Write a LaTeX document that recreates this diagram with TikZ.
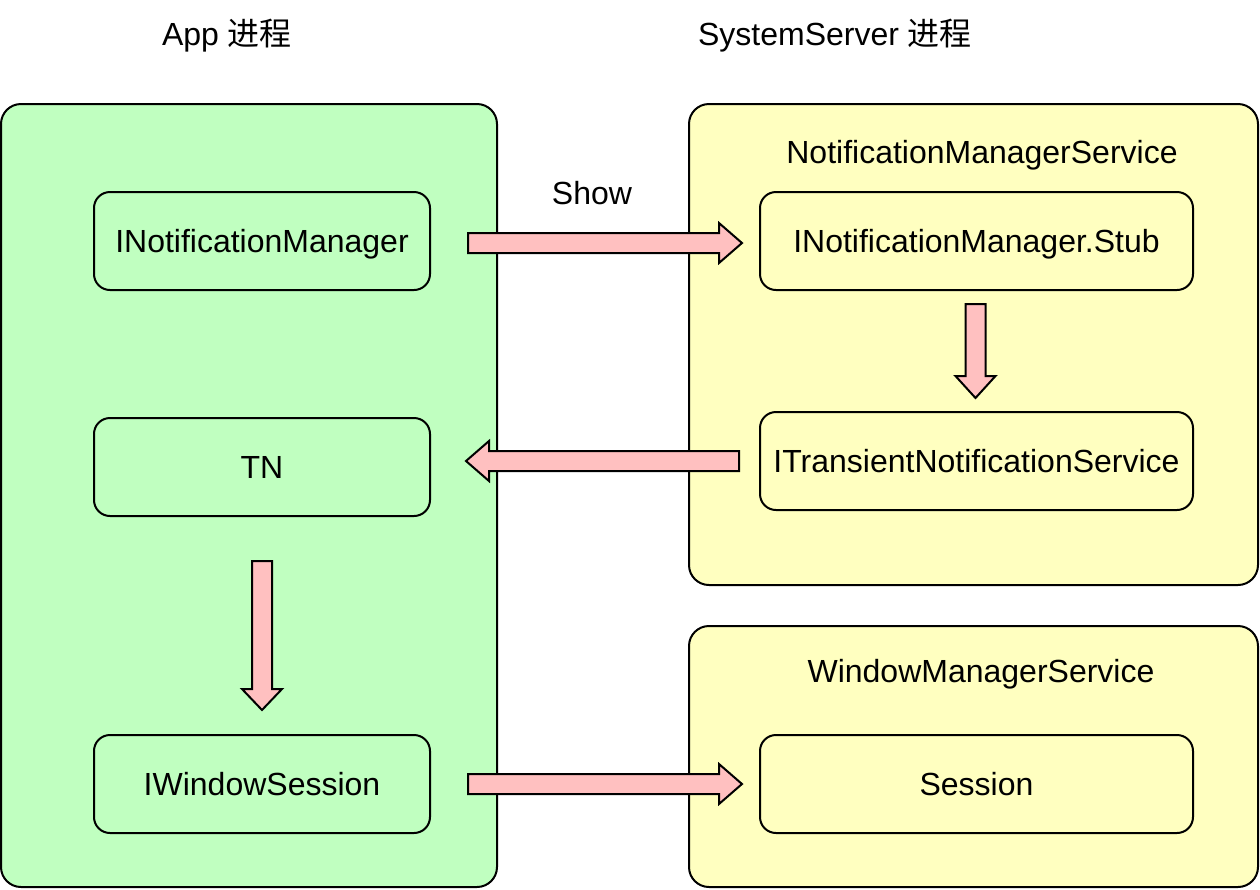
\documentclass[tikz,border=0pt]{standalone}
\usepackage{fontspec}
\setmainfont{Liberation Sans}
\newfontfamily\cjk{Noto Sans CJK SC}
\usetikzlibrary{calc}
\definecolor{appgreen}{RGB}{192,255,192}
\definecolor{sysyellow}{RGB}{255,255,192}
\definecolor{arrpink}{RGB}{255,192,192}
\tikzset{
  outerbox/.style={draw=black, line width=1pt, rounded corners=10pt, inner sep=0pt},
  innerbox/.style={draw=black, line width=1pt, rounded corners=8pt, inner sep=0pt,
    minimum height=49pt, text height=11.5pt, text depth=0pt, font=\fontsize{16}{19}\selectfont},
  lbl/.style={font=\fontsize{16}{19}\selectfont, inner sep=0pt, text height=11.5pt, text depth=0pt},
  blockarrow/.style={draw=black, fill=arrpink, line width=1pt, line join=miter},
}
\newcommand\blockarr[3]{% tail, tip, head length (pt)
  \coordinate (bah) at ($(#2)!#3!(#1)$);
  \draw[blockarrow] ($(#1)!5pt!90:(#2)$) -- ($(bah)!5pt!90:(#2)$) -- ($(bah)!10pt!90:(#2)$)
    -- (#2) -- ($(bah)!10pt!-90:(#2)$) -- ($(bah)!5pt!-90:(#2)$) -- ($(#1)!5pt!-90:(#2)$) -- cycle;
}
\begin{document}
\begin{tikzpicture}[x=0.5pt,y=-0.5pt]
\useasboundingbox (0,0) rectangle (1260,890);
% containers
\node[outerbox, fill=appgreen, minimum width=248pt, minimum height=391.5pt] (app) at (249,495.5) {};
\node[outerbox, fill=sysyellow, minimum width=284.5pt, minimum height=240.5pt] (nms) at (973.5,344.5) {};
\node[outerbox, fill=sysyellow, minimum width=284.5pt, minimum height=130.5pt] (wms) at (973.5,756.5) {};
% titles
\node[lbl] (apptitle) at (227,34) {App {\cjk 进程}};
\node[lbl] (systitle) at (835,34) {SystemServer {\cjk 进程}};
\node[lbl] (nmstitle) at (982,152) {NotificationManagerService};
\node[lbl] (wmstitle) at (981,671) {WindowManagerService};
% inner boxes
\node[innerbox, fill=appgreen, minimum width=168pt] (inm) at (262,241) {INotificationManager};
\node[innerbox, fill=appgreen, minimum width=168pt] (tn) at (262,467) {TN};
\node[innerbox, fill=appgreen, minimum width=168pt] (iws) at (262,784) {IWindowSession};
\node[innerbox, fill=sysyellow, minimum width=216.5pt] (stub) at (976.5,241) {INotificationManager.Stub};
\node[innerbox, fill=sysyellow, minimum width=216.5pt] (its) at (976.5,461) {ITransientNotificationService};
\node[innerbox, fill=sysyellow, minimum width=216.5pt] (sess) at (976.5,784) {Session};
% label
\node[lbl] (show) at (592,193) {Show};
% arrows
\coordinate (a1t) at ($(inm.east)+(37,2)$);
\coordinate (a1h) at ($(stub.west)+(-17,2)$);
\blockarr{a1t}{a1h}{11.5pt}
\coordinate (a2t) at ($(its.west)+(-20,0)$);
\coordinate (a2h) at ($(tn.east)+(35,-6)$);
\blockarr{a2t}{a2h}{11.5pt}
\coordinate (a3t) at ($(stub.south)+(-1,13)$);
\coordinate (a3h) at ($(its.north)+(-1,-13)$);
\blockarr{a3t}{a3h}{11pt}
\coordinate (a4t) at ($(tn.south)+(0,44)$);
\coordinate (a4h) at ($(iws.north)+(0,-24)$);
\blockarr{a4t}{a4h}{10.5pt}
\coordinate (a5t) at ($(iws.east)+(37,0)$);
\coordinate (a5h) at ($(sess.west)+(-17,0)$);
\blockarr{a5t}{a5h}{11.5pt}
\end{tikzpicture}
\end{document}
